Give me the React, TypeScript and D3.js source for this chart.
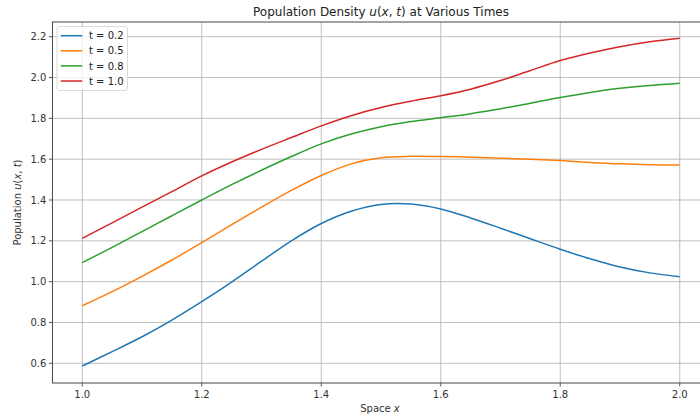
import React from 'react';
import * as d3 from 'd3';

const xs = [1.0, 1.05, 1.1, 1.15, 1.2, 1.25, 1.3, 1.35, 1.4, 1.45, 1.5, 1.55, 1.6, 1.65, 1.7, 1.75, 1.8, 1.85, 1.9, 1.95, 2.0];

const u02 = [0.587, 0.657, 0.73, 0.812, 0.902, 0.998, 1.1, 1.2, 1.285, 1.345, 1.378, 1.38, 1.356, 1.312, 1.262, 1.21, 1.159, 1.112, 1.072, 1.043, 1.024];
const u05 = [0.882, 0.951, 1.026, 1.106, 1.191, 1.279, 1.365, 1.447, 1.52, 1.577, 1.607, 1.614, 1.613, 1.61, 1.605, 1.6, 1.593, 1.584, 1.577, 1.573, 1.572];
const u08 = [1.093, 1.168, 1.245, 1.323, 1.4, 1.475, 1.546, 1.613, 1.675, 1.723, 1.759, 1.784, 1.803, 1.823, 1.847, 1.874, 1.902, 1.927, 1.947, 1.961, 1.972];
const u10 = [1.212, 1.288, 1.365, 1.441, 1.518, 1.586, 1.648, 1.706, 1.763, 1.813, 1.853, 1.884, 1.911, 1.943, 1.985, 2.034, 2.083, 2.12, 2.151, 2.175, 2.192];

const seriesNames = ['t = 0.2', 't = 0.5', 't = 0.8', 't = 1.0'];
const seriesValues = [u02, u05, u08, u10];
const colors = ['#1f77b4', '#ff7f0e', '#2ca02c', '#d62728'];

const xTicks = [1.0, 1.2, 1.4, 1.6, 1.8, 2.0];
const yTicks = [0.6, 0.8, 1.0, 1.2, 1.4, 1.6, 1.8, 2.0, 2.2];

const W = 700;
const H = 419;
const font = 'DejaVu Sans, sans-serif';

export default function App() {
  const left = 52.4, right = 709.6, top = 22, bottom = 383;

  const x = d3.scaleLinear().domain([0.95, 2.05]).range([left, right]);
  const y = d3.scaleLinear().domain([0.5035, 2.272]).range([bottom, top]);

  const line = d3.line<number>()
    .x((_, i) => x(xs[i]))
    .y(d => y(d))
    .curve(d3.curveCatmullRom.alpha(0.5));

  return (
    <svg width={W} height={H} style={{ position: 'absolute', left: 0, top: 0, background: '#fff' }} fontFamily={font}>
      <defs>
        <clipPath id="plot">
          <rect x={left} y={top} width={right - left} height={bottom - top} />
        </clipPath>
      </defs>

      {/* grid */}
      {xTicks.map(t => (
        <line key={'gx' + t} x1={x(t)} x2={x(t)} y1={top} y2={bottom} stroke="#b0b0b0" strokeWidth={0.8} />
      ))}
      {yTicks.map(t => (
        <line key={'gy' + t} x1={left} x2={right} y1={y(t)} y2={y(t)} stroke="#b0b0b0" strokeWidth={0.8} />
      ))}

      {/* series */}
      <g clipPath="url(#plot)">
        {seriesValues.map((vals, i) => (
          <path key={i} d={line(vals) || ''} fill="none" stroke={colors[i]} strokeWidth={1.5} />
        ))}
      </g>

      {/* spines */}
      <rect x={left} y={top} width={right - left} height={bottom - top} fill="none" stroke="#333" strokeWidth={0.9} />

      {/* x ticks */}
      {xTicks.map(t => (
        <g key={'tx' + t}>
          <line x1={x(t)} x2={x(t)} y1={bottom} y2={bottom + 3.5} stroke="#333" strokeWidth={0.8} />
          <text x={x(t)} y={bottom + 14.5} textAnchor="middle" fontSize={10} fill="#333">{t.toFixed(1)}</text>
        </g>
      ))}
      {/* y ticks */}
      {yTicks.map(t => (
        <g key={'ty' + t}>
          <line x1={left - 3.5} x2={left} y1={y(t)} y2={y(t)} stroke="#333" strokeWidth={0.8} />
          <text x={left - 6} y={y(t) + 3.6} textAnchor="end" fontSize={10} fill="#333">{t.toFixed(1)}</text>
        </g>
      ))}

      {/* labels */}
      <text x={380} y={411.5} textAnchor="middle" fontSize={10} fill="#333">
        Space <tspan fontStyle="italic">x</tspan>
      </text>
      <text transform={`translate(20.5,${(top + bottom) / 2}) rotate(-90)`} textAnchor="middle" fontSize={10} fill="#333">
        Population <tspan fontStyle="italic">u</tspan>(<tspan fontStyle="italic">x</tspan>, <tspan fontStyle="italic">t</tspan>)
      </text>
      <text x={381} y={16} textAnchor="middle" fontSize={12} fill="#222">
        Population Density <tspan fontStyle="italic">u</tspan>(<tspan fontStyle="italic">x</tspan>, <tspan fontStyle="italic">t</tspan>) at Various Times
      </text>

      {/* legend */}
      <rect x={57} y={26.5} width={70.5} height={64} rx={2.5} fill="#fff" fillOpacity={0.8} stroke="#d0d0d0" strokeWidth={0.8} />
      {seriesNames.map((name, i) => (
        <g key={name}>
          <line x1={60.7} x2={82.3} y1={35.7 + i * 15.1} y2={35.7 + i * 15.1} stroke={colors[i]} strokeWidth={1.5} />
          <text x={89} y={35.7 + i * 15.1 + 3.6} fontSize={10} fill="#222">{name}</text>
        </g>
      ))}
    </svg>
  );
}
